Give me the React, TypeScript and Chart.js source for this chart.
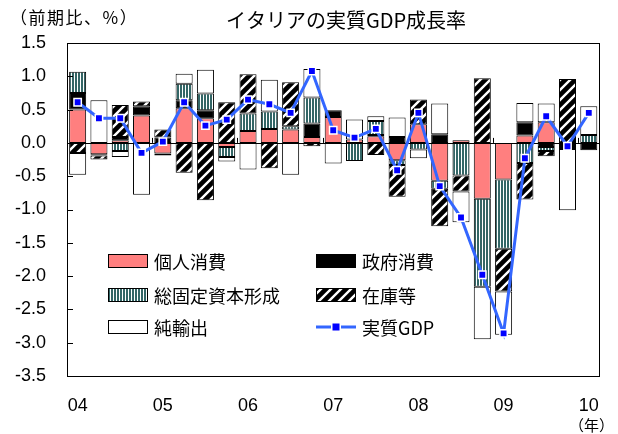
import React, { useEffect, useRef } from 'react';
import { Chart, registerables } from 'chart.js';
Chart.register(...registerables);

const categories = ['04', '', '', '', '05', '', '', '', '06', '', '', '', '07', '', '', '', '08', '', '', '', '09', '', '', '', '10'];

const privateConsumption = [0.50, -0.17, 0.04, 0.41, -0.16, 0.52, 0.37, -0.06, 0.18, 0.21, 0.20, 0.09, 0.39, 0.05, 0.10, -0.26, 0.28, -0.57, 0.04, -0.84, -0.55, 0.11, 0.31, -0.03, null];
const govConsumption = [0.25, -0.02, 0.05, 0.14, 0.08, 0.12, 0.12, null, null, null, null, 0.20, 0.10, null, 0.02, 0.09, null, 0.13, null, null, null, 0.20, -0.06, -0.06, -0.11];
const fixedInvestment = [0.32, null, -0.12, null, null, 0.25, 0.25, -0.15, 0.26, 0.26, 0.05, 0.39, null, -0.27, 0.21, -0.07, -0.10, -0.12, -0.49, -1.32, -1.04, -0.30, -0.06, null, 0.12];
const inventories = [-0.15, -0.06, 0.48, 0.07, 0.12, -0.45, -0.86, 0.61, 0.59, -0.38, 0.66, -0.05, null, null, -0.18, -0.48, 0.37, -0.56, -0.24, 0.97, -0.64, -0.55, -0.08, 0.96, null];
const netExports = [-0.33, 0.64, -0.09, -0.78, -0.03, 0.15, 0.36, -0.07, -0.40, 0.48, -0.48, 0.43, -0.31, 0.30, 0.07, 0.29, -0.13, 0.46, -0.46, -0.79, -0.65, 0.29, 0.28, -0.92, 0.43];
const realGDP = [0.61, 0.37, 0.37, -0.15, 0.02, 0.61, 0.26, 0.35, 0.65, 0.58, 0.45, 1.08, 0.19, 0.08, 0.21, -0.41, 0.45, -0.65, -1.12, -1.98, -2.86, -0.23, 0.40, -0.05, 0.45];

const yMin = -3.5;
const yMax = 1.5;
const yStep = 0.5;

const titleText = 'イタリアの実質GDP成長率';
const unitText = '（前期比、%）';
const yearText = '（年）';
const legendLabels = ['個人消費', '政府消費', '総固定資本形成', '在庫等', '純輸出', '実質GDP'];

const PINK = '#FF7F7F';
const TEAL = '#336666';
const LINE_BLUE = '#3366FF';
const MARK_BLUE = '#0000FF';
const JP = '"Noto Sans CJK JP", "Noto Sans", sans-serif';
const LAT = '"Liberation Sans", Arial, sans-serif';

function stripePattern(ctx: CanvasRenderingContext2D) {
  const c = document.createElement('canvas');
  c.width = 3; c.height = 4;
  const g = c.getContext('2d')!;
  g.fillStyle = '#fff'; g.fillRect(0, 0, 3, 4);
  g.fillStyle = TEAL; g.fillRect(0, 0, 2, 4);
  return ctx.createPattern(c, 'repeat')!;
}

function hatchPattern(ctx: CanvasRenderingContext2D) {
  const s = 10;
  const c = document.createElement('canvas');
  c.width = s; c.height = s;
  const g = c.getContext('2d')!;
  g.fillStyle = '#000'; g.fillRect(0, 0, s, s);
  g.strokeStyle = '#fff'; g.lineWidth = 2.4;
  g.beginPath();
  g.moveTo(-2, s + 2); g.lineTo(s + 2, -2);
  g.moveTo(-2, 2); g.lineTo(2, -2);
  g.moveTo(s - 2, s + 2); g.lineTo(s + 2, s - 2);
  g.stroke();
  return ctx.createPattern(c, 'repeat')!;
}

export default function App() {
  const ref = useRef<HTMLCanvasElement>(null);
  useEffect(() => {
    const canvas = ref.current!;
    const ctx = canvas.getContext('2d')!;
    const stripe = stripePattern(ctx);
    const hatch = hatchPattern(ctx);

    const decor = {
      id: 'decor',
      beforeDatasetsDraw(chart: any) {
        const { ctx: c, chartArea: ca, scales } = chart;
        const y0 = scales.y.getPixelForValue(0);
        c.save();
        c.strokeStyle = '#000';
        c.lineWidth = 1;
        c.beginPath();
        c.moveTo(ca.left, Math.round(y0) + 0.5);
        c.lineTo(ca.right, Math.round(y0) + 0.5);
        for (let i = 4; i < categories.length; i += 4) {
          const xp = (scales.x.getPixelForValue(i - 1) + scales.x.getPixelForValue(i)) / 2;
          c.moveTo(Math.round(xp) + 0.5, y0);
          c.lineTo(Math.round(xp) + 0.5, y0 - 5);
        }
        c.stroke();
        c.restore();
      },
      afterDraw(chart: any) {
        const { ctx: c, chartArea: ca, scales } = chart;
        c.save();
        c.strokeStyle = '#000';
        c.lineWidth = 1;
        c.strokeRect(Math.round(ca.left) + 0.5, Math.round(ca.top) + 0.5, Math.round(ca.right - ca.left), Math.round(ca.bottom - ca.top));
        c.beginPath();
        for (let v = yMin; v <= yMax + 1e-9; v += yStep) {
          const yp = Math.round(scales.y.getPixelForValue(v)) + 0.5;
          c.moveTo(ca.left, yp);
          c.lineTo(ca.left + 6, yp);
        }
        c.stroke();

        c.fillStyle = '#000';
        c.textBaseline = 'middle';
        c.textAlign = 'center';
        c.font = `20px ${JP}`;
        c.fillText(titleText, 346, 20);
        c.textAlign = 'left';
        c.font = `17px ${JP}`;
        (c as any).letterSpacing = '1.5px';
        c.fillText(unitText, 10, 18);
        (c as any).letterSpacing = '0px';
        c.textAlign = 'right';
        c.font = `15px ${JP}`;
        c.fillText(yearText, 614, 425);

        // legend
        const cols = [108, 316];
        const rows = [261, 295, 327];
        const fills: any[] = [PINK, '#000', stripe, hatch, '#fff'];
        c.textAlign = 'left';
        c.font = `18px ${JP}`;
        for (let k = 0; k < 6; k++) {
          const cx = cols[k % 2];
          const cy = rows[Math.floor(k / 2)];
          if (k < 5) {
            c.fillStyle = fills[k];
            c.fillRect(cx, cy - 7, 40, 14);
            c.strokeStyle = '#000';
            c.lineWidth = 1;
            c.strokeRect(cx + 0.5, cy - 6.5, 39, 13);
          } else {
            c.strokeStyle = LINE_BLUE;
            c.lineWidth = 3;
            c.beginPath();
            c.moveTo(cx, cy); c.lineTo(cx + 40, cy);
            c.stroke();
            c.fillStyle = '#fff';
            c.fillRect(cx + 20 - 5, cy - 5, 10, 10);
            c.fillStyle = MARK_BLUE;
            c.fillRect(cx + 20 - 3.5, cy - 3.5, 7, 7);
          }
          c.fillStyle = '#000';
          c.fillText(legendLabels[k], cx + 46, cy + 1);
        }
        c.restore();
      },
    };

    const barDs = (label: string, data: (number | null)[], bg: any) => ({
      type: 'bar' as const,
      label,
      data,
      backgroundColor: bg,
      borderColor: '#000',
      borderWidth: 1,
      borderSkipped: false,
      barPercentage: 0.8,
      categoryPercentage: 1.0,
      order: 1,
    });

    const chart = new Chart(canvas, {
      data: {
        labels: categories,
        datasets: [
          barDs(legendLabels[0], privateConsumption, PINK),
          barDs(legendLabels[1], govConsumption, '#000'),
          barDs(legendLabels[2], fixedInvestment, stripe),
          barDs(legendLabels[3], inventories, hatch),
          barDs(legendLabels[4], netExports, '#fff'),
          {
            type: 'line' as const,
            label: legendLabels[5],
            data: realGDP,
            borderColor: LINE_BLUE,
            borderWidth: 3,
            tension: 0,
            pointStyle: 'rect',
            pointRadius: 5.2,
            pointBackgroundColor: MARK_BLUE,
            pointBorderColor: '#fff',
            pointBorderWidth: 1.5,
            stack: 'gdp',
            order: 0,
          } as any,
        ],
      },
      options: {
        animation: false,
        responsive: false,
        events: [],
        layout: { padding: { top: 43, right: 10, bottom: 0, left: 0 } },
        plugins: { legend: { display: false }, tooltip: { enabled: false }, title: { display: false } },
        scales: {
          x: {
            stacked: true,
            offset: true,
            grid: { display: false, drawTicks: false },
            border: { display: false },
            ticks: { autoSkip: false, maxRotation: 0, padding: 19, color: '#000', font: { family: LAT, size: 18 } },
            afterFit: (s: any) => { s.height = 58; },
          },
          y: {
            stacked: true,
            min: yMin,
            max: yMax,
            grid: { display: false, drawTicks: false },
            border: { display: false },
            ticks: {
              stepSize: yStep,
              padding: 21,
              color: '#000',
              font: { family: LAT, size: 18 },
              callback: (v: any) => Number(v).toFixed(1),
            },
            afterFit: (s: any) => { s.width = 67; },
          },
        },
      },
      plugins: [decor],
    } as any);
    return () => chart.destroy();
  }, []);

  return (
    <div style={{ position: 'fixed', left: 0, top: 0, width: 618, height: 434, background: '#fff' }}>
      <canvas ref={ref} width={618} height={434} style={{ display: 'block' }} />
    </div>
  );
}
